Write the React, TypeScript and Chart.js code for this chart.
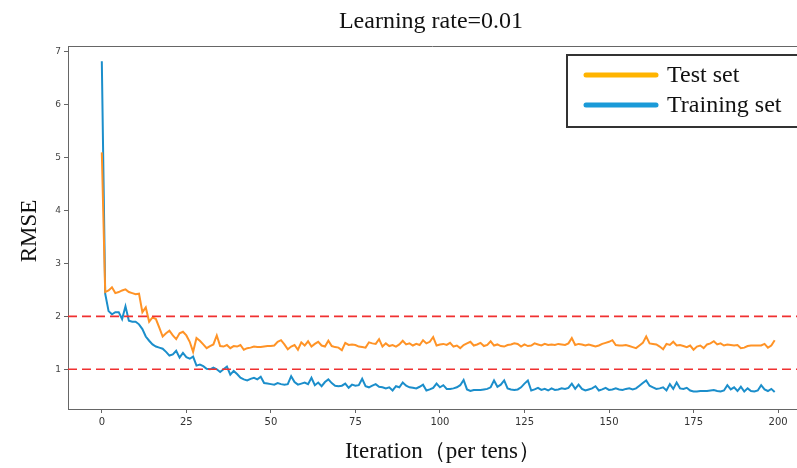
import React, { useEffect, useRef } from 'react';
import { Chart, registerables } from 'chart.js';

Chart.register(...registerables);

// RMSE per iteration (in tens) for the test and training sets
const testRmse = [
  5.10, 2.46, 2.49, 2.55, 2.44, 2.46, 2.49, 2.51, 2.46, 2.44,
  2.42, 2.43, 2.08, 2.17, 1.90, 1.98, 1.95, 1.79, 1.62, 1.68,
  1.73, 1.64, 1.57, 1.68, 1.71, 1.64, 1.52, 1.33, 1.59, 1.54,
  1.47, 1.40, 1.44, 1.47, 1.64, 1.44, 1.43, 1.46, 1.40, 1.44,
  1.43, 1.46, 1.37, 1.40, 1.41, 1.43, 1.42, 1.42, 1.43, 1.44,
  1.44, 1.45, 1.52, 1.55, 1.47, 1.38, 1.43, 1.46, 1.37, 1.51,
  1.45, 1.53, 1.43, 1.48, 1.52, 1.45, 1.43, 1.54, 1.44, 1.42,
  1.41, 1.36, 1.50, 1.46, 1.47, 1.46, 1.43, 1.42, 1.41, 1.51,
  1.49, 1.48, 1.57, 1.43, 1.49, 1.44, 1.46, 1.43, 1.47, 1.54,
  1.47, 1.49, 1.45, 1.48, 1.46, 1.55, 1.49, 1.52, 1.61, 1.45,
  1.47, 1.48, 1.46, 1.50, 1.43, 1.45, 1.40, 1.46, 1.49, 1.52,
  1.45, 1.47, 1.50, 1.44, 1.46, 1.53, 1.45, 1.47, 1.44, 1.43,
  1.46, 1.47, 1.49, 1.48, 1.43, 1.47, 1.44, 1.45, 1.49, 1.47,
  1.45, 1.48, 1.46, 1.47, 1.46, 1.48, 1.47, 1.46, 1.49, 1.59,
  1.46, 1.48, 1.47, 1.45, 1.47, 1.45, 1.43, 1.45, 1.48, 1.50,
  1.52, 1.55, 1.46, 1.45, 1.45, 1.46, 1.44, 1.42, 1.40, 1.45,
  1.50, 1.62, 1.49, 1.48, 1.47, 1.43, 1.38, 1.48, 1.46, 1.52,
  1.45, 1.46, 1.44, 1.42, 1.45, 1.37, 1.43, 1.45, 1.40, 1.47,
  1.49, 1.53, 1.47, 1.49, 1.45, 1.47, 1.46, 1.45, 1.46, 1.40,
  1.41, 1.44, 1.45, 1.45, 1.45, 1.45, 1.48, 1.41, 1.45, 1.55,
];

const trainRmse = [
  6.82, 2.43, 2.10, 2.04, 2.08, 2.08, 1.95, 2.19, 1.92, 1.90,
  1.90, 1.85, 1.76, 1.62, 1.54, 1.47, 1.43, 1.41, 1.39, 1.33,
  1.26, 1.28, 1.35, 1.22, 1.31, 1.23, 1.20, 1.24, 1.07, 1.09,
  1.06, 1.01, 1.00, 1.03, 1.00, 0.95, 1.00, 1.05, 0.90, 0.97,
  0.91, 0.84, 0.81, 0.79, 0.82, 0.84, 0.81, 0.86, 0.74, 0.73,
  0.72, 0.71, 0.74, 0.72, 0.71, 0.72, 0.87, 0.76, 0.71, 0.73,
  0.75, 0.72, 0.84, 0.70, 0.75, 0.68, 0.76, 0.81, 0.74, 0.69,
  0.68, 0.69, 0.73, 0.65, 0.71, 0.69, 0.70, 0.82, 0.68, 0.66,
  0.69, 0.72, 0.67, 0.66, 0.64, 0.66, 0.60, 0.68, 0.66, 0.75,
  0.69, 0.66, 0.65, 0.64, 0.67, 0.71, 0.60, 0.62, 0.65, 0.73,
  0.66, 0.70, 0.63, 0.63, 0.64, 0.66, 0.70, 0.80, 0.62, 0.59,
  0.61, 0.61, 0.61, 0.62, 0.63, 0.66, 0.79, 0.67, 0.71, 0.79,
  0.64, 0.62, 0.61, 0.62, 0.66, 0.73, 0.79, 0.60, 0.62, 0.65,
  0.61, 0.63, 0.60, 0.64, 0.61, 0.62, 0.64, 0.63, 0.65, 0.73,
  0.63, 0.71, 0.63, 0.60, 0.62, 0.64, 0.68, 0.60, 0.62, 0.65,
  0.61, 0.62, 0.64, 0.62, 0.61, 0.63, 0.64, 0.62, 0.64, 0.69,
  0.74, 0.79, 0.69, 0.66, 0.63, 0.64, 0.66, 0.60, 0.72, 0.63,
  0.75, 0.64, 0.63, 0.65, 0.60, 0.58, 0.58, 0.59, 0.59, 0.59,
  0.60, 0.61, 0.59, 0.58, 0.60, 0.70, 0.62, 0.66, 0.59, 0.67,
  0.58, 0.64, 0.59, 0.58, 0.60, 0.70, 0.62, 0.59, 0.63, 0.57,
];

// Reference levels drawn as dashed red lines
const thresholds = [2, 1];

const xTicks = [0, 25, 50, 75, 100, 125, 150, 175, 200];
const yTicks = [1, 2, 3, 4, 5, 6, 7];

const X_MIN = -10;
const X_MAX = 205.6;
const Y_MIN = 0.25;
const Y_MAX = 7.11;

const SERIF = '"Liberation Serif", "Times New Roman", serif';
const TEST_COLOR = '#FF9326';
const TRAIN_COLOR = '#1B8ECB';

const decorations = {
  id: 'decorations',
  afterDraw(chart: any) {
    const { ctx, chartArea } = chart;
    ctx.save();

    // upper frame edge
    ctx.strokeStyle = '#666';
    ctx.lineWidth = 1;
    ctx.beginPath();
    ctx.moveTo(chartArea.left, chartArea.top + 0.5);
    ctx.lineTo(chartArea.right, chartArea.top + 0.5);
    ctx.stroke();

    // titles
    ctx.fillStyle = '#111';
    ctx.textAlign = 'center';
    ctx.textBaseline = 'middle';
    ctx.font = `24px ${SERIF}`;
    ctx.fillText('Learning rate=0.01', 431, 22);

    ctx.font = `23px ${SERIF}`;
    ctx.fillText('Iteration（per tens）', 443, 452);

    ctx.save();
    ctx.translate(30, 231);
    ctx.rotate(-Math.PI / 2);
    ctx.font = `23px ${SERIF}`;
    ctx.fillText('RMSE', 0, 0);
    ctx.restore();

    // legend box
    ctx.fillStyle = '#fff';
    ctx.fillRect(567, 55, 240, 72);
    ctx.strokeStyle = '#333';
    ctx.lineWidth = 2;
    ctx.strokeRect(567, 55, 240, 72);

    const entries = [
      { label: 'Test set', color: '#FFB400', y: 75 },
      { label: 'Training set', color: '#1A9AD8', y: 105 },
    ];
    ctx.lineCap = 'round';
    ctx.textAlign = 'left';
    ctx.font = `24px ${SERIF}`;
    for (const e of entries) {
      ctx.strokeStyle = e.color;
      ctx.lineWidth = 5;
      ctx.beginPath();
      ctx.moveTo(586, e.y);
      ctx.lineTo(656, e.y);
      ctx.stroke();
      ctx.fillStyle = '#111';
      ctx.fillText(e.label, 667, e.y + 1);
    }
    ctx.restore();
  },
};

export default function App() {
  const canvasRef = useRef<HTMLCanvasElement | null>(null);

  useEffect(() => {
    const canvas = canvasRef.current;
    if (!canvas) return;

    const toPoints = (arr: number[]) => arr.map((v, i) => ({ x: i, y: v }));

    const refLines = thresholds.map((t) => ({
      label: `y=${t}`,
      data: [
        { x: X_MIN, y: t },
        { x: X_MAX, y: t },
      ],
      borderColor: '#F03030',
      borderWidth: 1.6,
      borderDash: [9, 5],
      pointRadius: 0,
    }));

    const chart = new Chart(canvas, {
      type: 'line',
      data: {
        datasets: [
          ...refLines,
          {
            label: 'Test set',
            data: toPoints(testRmse),
            borderColor: TEST_COLOR,
            borderWidth: 2,
            pointRadius: 0,
            tension: 0,
          },
          {
            label: 'Training set',
            data: toPoints(trainRmse),
            borderColor: TRAIN_COLOR,
            borderWidth: 2,
            pointRadius: 0,
            tension: 0,
          },
        ],
      },
      options: {
        animation: false,
        responsive: false,
        maintainAspectRatio: false,
        layout: { padding: { top: 46, left: 0, right: 0, bottom: 0 } },
        plugins: {
          legend: { display: false },
          title: { display: false },
          tooltip: { enabled: false },
        },
        scales: {
          x: {
            type: 'linear',
            min: X_MIN,
            max: X_MAX,
            afterBuildTicks: (s: any) => {
              s.ticks = xTicks.map((v) => ({ value: v }));
            },
            afterFit: (s: any) => {
              s.height = 59;
            },
            ticks: {
              autoSkip: false,
              maxRotation: 0,
              color: '#333',
              padding: 3,
              font: { size: 10, family: '"DejaVu Sans", sans-serif' },
            },
            grid: { drawOnChartArea: false, drawTicks: true, tickLength: 4, color: '#666' },
            border: { display: true, color: '#666', width: 1 },
          },
          y: {
            type: 'linear',
            min: Y_MIN,
            max: Y_MAX,
            afterBuildTicks: (s: any) => {
              s.ticks = yTicks.map((v) => ({ value: v }));
            },
            afterFit: (s: any) => {
              s.width = 68;
            },
            ticks: {
              autoSkip: false,
              color: '#444',
              padding: 3,
              font: { size: 9, family: '"DejaVu Sans", sans-serif' },
            },
            grid: { drawOnChartArea: false, drawTicks: true, tickLength: 4, color: '#666' },
            border: { display: true, color: '#666', width: 1 },
          },
        },
      },
      plugins: [decorations],
    });

    return () => chart.destroy();
  }, []);

  return (
    <div style={{ position: 'fixed', left: 0, top: 0, width: 797, height: 468, background: '#fff' }}>
      <canvas ref={canvasRef} width={797} height={468} />
    </div>
  );
}
